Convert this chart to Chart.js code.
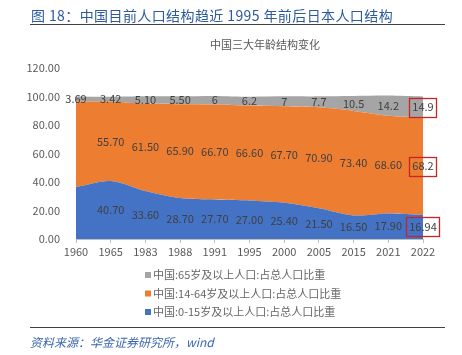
<!DOCTYPE html>
<html>
<head>
<meta charset="utf-8">
<script src="https://cdn.jsdelivr.net/npm/chart.js@4/dist/chart.umd.min.js"></script>
<style>
  html, body { margin: 0; padding: 0; background: #fff; }
  #wrap { position: relative; width: 462px; height: 355px; overflow: hidden; }
  #c { position: absolute; left: 0; top: 0; }
  .t { position: absolute; white-space: nowrap; font-family: "Noto Sans CJK SC", sans-serif; }
  #head { left: 31px; top: 5px; font-size: 14px; color: #2b5a9e; letter-spacing: 0.4px; }
  #hline { position: absolute; left: 30px; top: 24px; width: 415px; height: 1px; background: #404040; }
  #ctitle { left: 210px; top: 36px; font-size: 11px; color: #595959; }
  #fline { position: absolute; left: 30px; top: 327px; width: 415px; height: 1px; background: #404040; }
  #src { left: 30px; top: 333px; font-size: 12px; color: #3a66b0; font-style: italic; }
</style>
</head>
<body>
<div id="wrap">
  <canvas id="c" width="462" height="355"></canvas>
  <div class="t" id="head">图 18：中国目前人口结构趋近 1995 年前后日本人口结构</div>
  <div id="hline"></div>
  <div class="t" id="ctitle">中国三大年龄结构变化</div>
  <div id="fline"></div>
  <div class="t" id="src">资料来源：华金证券研究所，wind</div>
</div>
<script>
const years = ["1960","1965","1983","1988","1991","1995","2000","2005","2015","2021","2022"];
const young = [36.5, 40.7, 33.6, 28.7, 27.7, 27.0, 25.4, 21.5, 16.5, 17.9, 16.94];
const working = [59.8, 55.7, 61.5, 65.9, 66.7, 66.6, 67.7, 70.9, 73.4, 68.6, 68.2];
const old = [3.69, 3.42, 5.1, 5.5, 6, 6.2, 7, 7.7, 10.5, 14.2, 14.9];
const youngLabels = [null,"40.70","33.60","28.70","27.70","27.00","25.40","21.50","16.50","17.90","16.94"];
const workingLabels = [null,"55.70","61.50","65.90","66.70","66.60","67.70","70.90","73.40","68.60","68.2"];
const oldLabels = ["3.69","3.42","5.10","5.50","6","6.2","7","7.7","10.5","14.2","14.9"];
const yTicks = [0, 20, 40, 60, 80, 100, 120];
const seriesNames = ["中国:0-15岁及以上人口:占总人口比重","中国:14-64岁及以上人口:占总人口比重","中国:65岁及以上人口:占总人口比重"];

const FONT = '"Noto Sans CJK SC", sans-serif';
const labelSets = [youngLabels, workingLabels, oldLabels];

const labelPlugin = {
  id: 'segLabels',
  afterDatasetsDraw(chart) {
    const ctx = chart.ctx;
    const ys = chart.scales.y;
    ctx.save();
    ctx.font = '11px ' + FONT;
    ctx.fillStyle = '#404040';
    ctx.textAlign = 'center';
    ctx.textBaseline = 'middle';
    const n = chart.data.labels.length;
    for (let j = 0; j < n; j++) {
      let base = 0;
      chart.data.datasets.forEach((ds, i) => {
        const v = ds.data[j];
        const mid = base + v / 2;
        base += v;
        const txt = labelSets[i][j];
        if (txt == null) return;
        const x = chart.getDatasetMeta(i).data[j].x;
        const y = ys.getPixelForValue(mid);
        ctx.fillText(txt, x, y);
        if (j === n - 1) {
          const w = ctx.measureText(txt).width + 6;
          ctx.strokeStyle = '#c8252b';
          ctx.lineWidth = 1.3;
          ctx.strokeRect(Math.round(x - w / 2) + 0.5, Math.round(y - 9.5) + 0.5, Math.round(w), 19);
        }
      });
    }
    ctx.restore();
  }
};

const legendPlugin = {
  id: 'vLegend',
  afterDraw(chart) {
    const ctx = chart.ctx;
    ctx.save();
    ctx.font = '11px ' + FONT;
    ctx.textBaseline = 'middle';
    ctx.textAlign = 'left';
    const ds = chart.data.datasets.slice().reverse();
    ds.forEach((d, k) => {
      const y = 275 + k * 18.5;
      ctx.fillStyle = d.backgroundColor;
      ctx.fillRect(145, y - 3, 6, 6);
      ctx.fillStyle = '#666666';
      ctx.fillText(d.label, 153, y);
    });
    ctx.restore();
  }
};

new Chart(document.getElementById('c'), {
  type: 'line',
  data: {
    labels: years,
    datasets: [
      { label: seriesNames[0], data: young, backgroundColor: '#4472C4', fill: 'origin' },
      { label: seriesNames[1], data: working, backgroundColor: '#ED7D31', fill: '-1' },
      { label: seriesNames[2], data: old, backgroundColor: '#A5A5A5', fill: '-1' }
    ]
  },
  options: {
    responsive: false,
    animation: false,
    devicePixelRatio: 1,
    layout: { padding: { left: 10, right: 39, top: 68, bottom: 92 } },
    elements: {
      line: { borderWidth: 0, tension: 0.3 },
      point: { radius: 0 }
    },
    plugins: { legend: { display: false }, title: { display: false }, tooltip: { enabled: false } },
    scales: {
      x: {
        offset: false,
        grid: { display: true, drawOnChartArea: false, drawTicks: true, tickLength: 4, color: '#bfbfbf' },
        border: { display: true, color: '#bfbfbf' },
        ticks: { font: { size: 11, family: FONT }, color: '#595959', padding: 2, maxRotation: 0, autoSkip: false },
        afterFit(s) { s.height = 24; }
      },
      y: {
        stacked: true,
        min: 0, max: 120,
        afterBuildTicks(s) { s.ticks = yTicks.map(v => ({ value: v })); },
        grid: { display: false },
        border: { display: false },
        ticks: { font: { size: 11, family: FONT }, color: '#595959', padding: 8, callback: v => Number(v).toFixed(2) },
        afterFit(s) { s.width = 66; }
      }
    }
  },
  plugins: [labelPlugin, legendPlugin]
});
</script>
</body>
</html>
